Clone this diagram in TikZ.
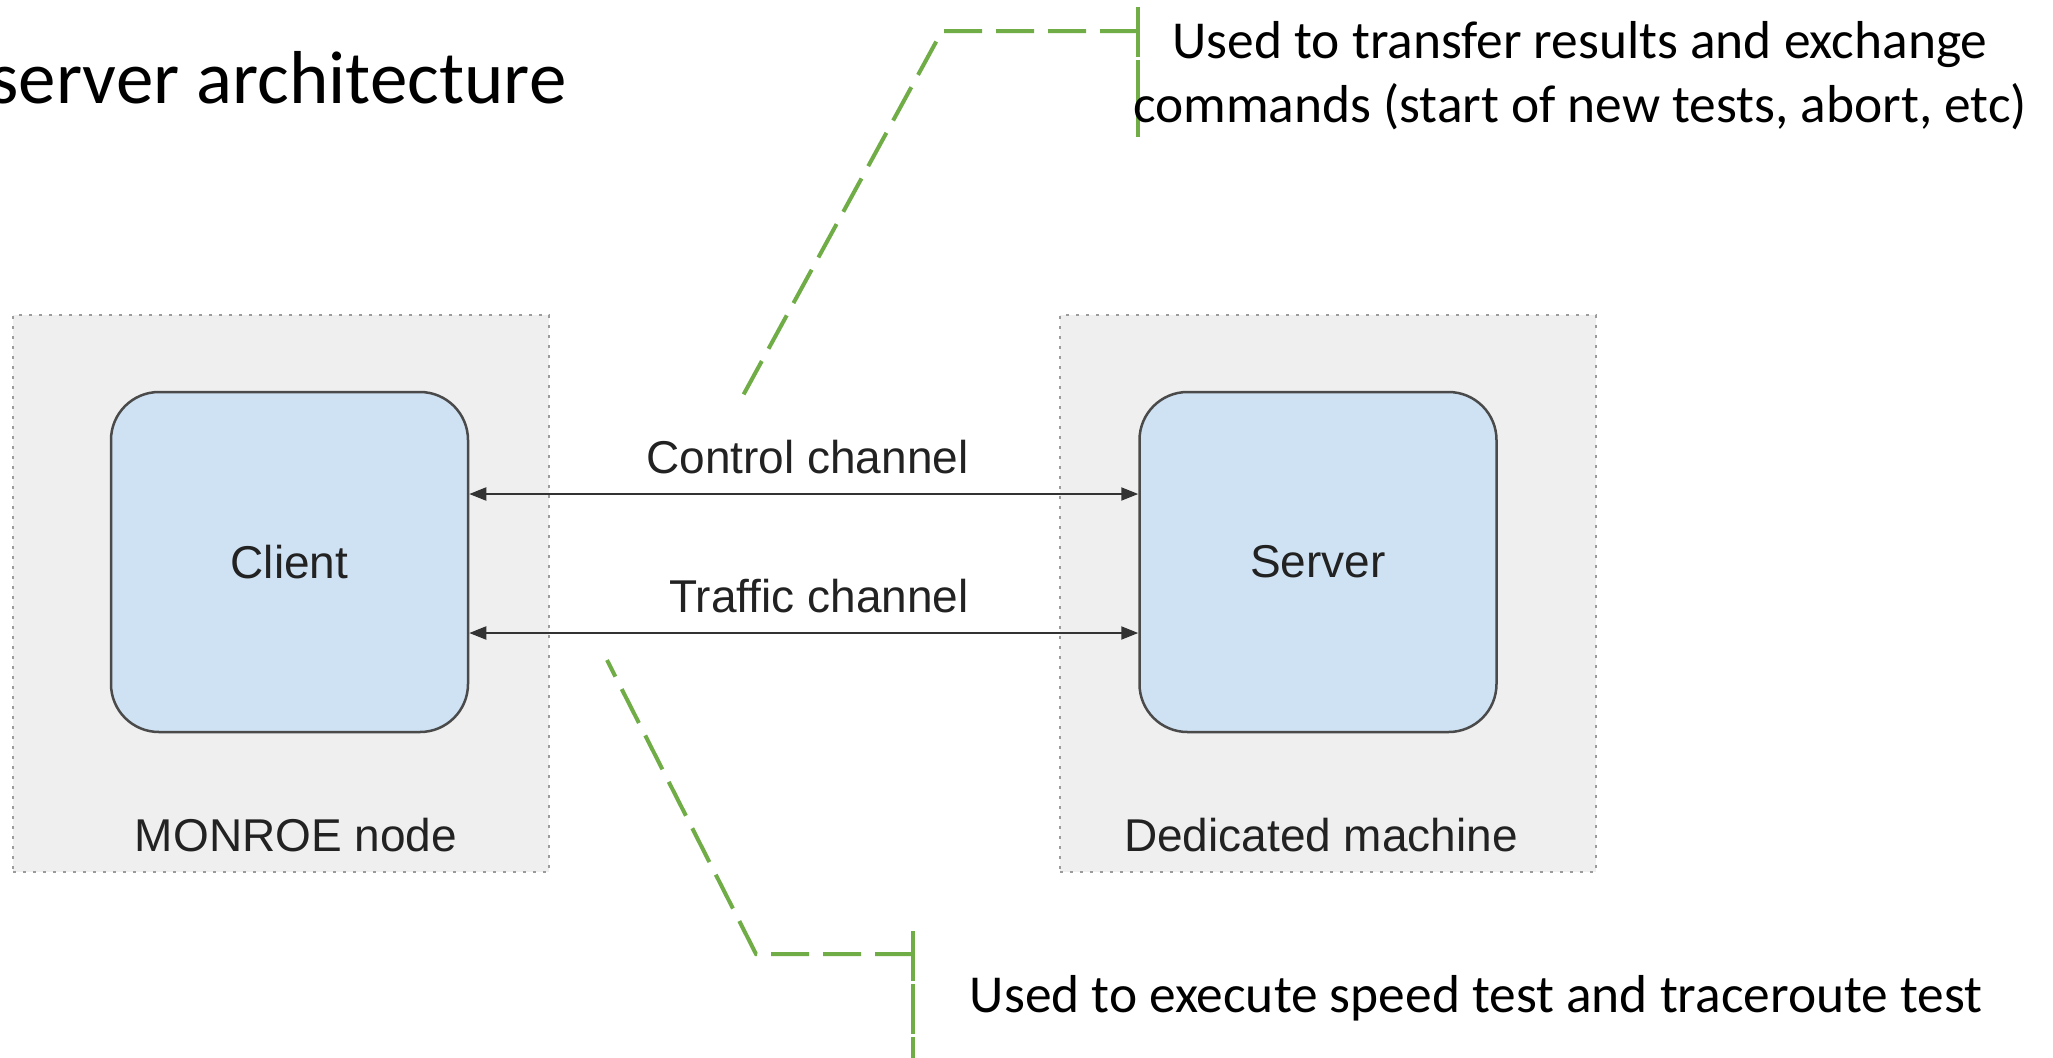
\documentclass[tikz,border=0pt]{standalone}
\usepackage{fontspec}
\setmainfont{Carlito}
\newfontfamily\diagfont{Liberation Sans}
\usetikzlibrary{arrows.meta}

\definecolor{hostfill}{HTML}{EFEFEF}
\definecolor{hostdots}{HTML}{9C9C9C}
\definecolor{procfill}{HTML}{CFE2F3}
\definecolor{procedge}{HTML}{4A4A4A}
\definecolor{diagink}{HTML}{222222}
\definecolor{wireink}{HTML}{333333}
\definecolor{callgreen}{HTML}{70AD47}

\begin{document}
\begin{tikzpicture}[x=0.5pt,y=-0.5pt,
  hostbox/.style={draw=hostdots, fill=hostfill, line width=1.25pt,
    dash pattern=on 1.5pt off 3.5pt, inner sep=0pt,
    minimum width=268pt, minimum height=278.5pt},
  procbox/.style={draw=procedge, fill=procfill, line width=1.25pt,
    rounded corners=24pt, inner sep=0pt,
    minimum width=178.5pt, minimum height=170pt,
    font=\diagfont\fontsize{23}{27}\selectfont, text=diagink},
  diaglabel/.style={font=\diagfont\fontsize{23}{27}\selectfont,
    text=diagink, inner sep=0pt},
  chan/.style={draw=wireink, line width=1pt,
    {Triangle[length=8.5pt,width=6.5pt]}-{Triangle[length=8.5pt,width=6.5pt]}},
  headline/.style={font=\fontsize{37.5}{45}\selectfont, inner sep=0pt},
  note/.style={font=\fontsize{26.7}{32}\selectfont, inner sep=0pt},
  leader/.style={draw=callgreen, line width=2pt,
    dash pattern=on 19pt off 7pt, line cap=butt, line join=miter},
  accent/.style={draw=callgreen, line width=2pt,
    dash pattern=on 25pt off 1.5pt, line cap=butt}
]
\useasboundingbox (0,0) rectangle (2053,1057);
\fill[white] (0,0) rectangle (2053,1057);

% heading (its first letter runs off the left edge)
\node[headline, anchor=base west] (heading) at (-11,103) {server architecture};

% hosts
\node[hostbox] (monroe) at (281,593.5) {};
\node[hostbox] (dedicated) at (1328,593.5) {};
\node[diaglabel, anchor=base] (monroelbl) at (296,851) {MONROE node};
\node[diaglabel, anchor=base] (dedicatedlbl) at (1321,851) {Dedicated machine};

% processes
\node[procbox] (client) at (289.5,562) {Client};
\node[procbox] (server) at (1318,562) {Server};

% channels
\coordinate (ctrlrow) at (0,494);
\coordinate (trafrow) at (0,633);
\draw[chan] (client.east |- ctrlrow) -- (server.west |- ctrlrow);
\draw[chan] (client.east |- trafrow) -- (server.west |- trafrow);
\node[diaglabel, anchor=base east] (ctrllbl) at (969,473) {Control channel};
\node[diaglabel, anchor=base east] (traflbl) at (969,612) {Traffic channel};

% callout for the control channel
\coordinate (tbartop) at (1138,7);
\coordinate (tbarbot) at (1138,137);
\coordinate (tjoin) at (1138,31);
\coordinate (tbend) at (942,31);
\coordinate (ttip) at (740,401);
\draw[accent] (tbartop) -- (tbarbot);
\draw[leader] (tjoin) -- (tbend) -- (ttip);
\node[note, anchor=base] (topnote1) at (1580,58) {Used to transfer results and exchange};
\node[note, anchor=base] (topnote2) at (1580,122) {commands (start of new tests, abort, etc)};

% callout for the traffic channel
\coordinate (bbartop) at (913,931);
\coordinate (bbarbot) at (913,1062);
\coordinate (bjoin) at (913,954);
\coordinate (bbend) at (756,954);
\coordinate (btip) at (607,660);
\draw[accent] (bbartop) -- (bbarbot);
\draw[leader] (bjoin) -- (bbend) -- (btip);
\node[note, anchor=base] (botnote) at (1476,1012) {Used to execute speed test and traceroute test};
\end{tikzpicture}
\end{document}
